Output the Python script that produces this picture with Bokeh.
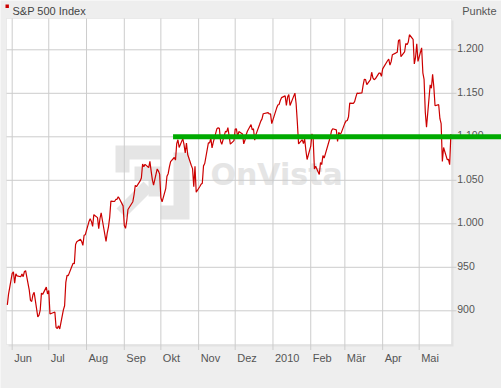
import pandas as pd
from bokeh.plotting import figure
from bokeh.models import (Range1d, Label, BoxAnnotation, PolyAnnotation, ColumnDataSource)
from bokeh.core.properties import value
from bokeh.embed import file_html
from bokeh.resources import INLINE

# ---------------- data ----------------
series_name = "S&P 500 Index"
unit_label = "Punkte"
watermark = "OnVista"

dates = [
    "2009-05-28", "2009-05-29",
    "2009-06-01", "2009-06-02", "2009-06-03", "2009-06-04", "2009-06-05", "2009-06-08", "2009-06-09",
    "2009-06-10", "2009-06-11", "2009-06-12", "2009-06-15", "2009-06-16", "2009-06-17", "2009-06-18",
    "2009-06-19", "2009-06-22", "2009-06-23", "2009-06-24", "2009-06-25", "2009-06-26", "2009-06-29",
    "2009-06-30",
    "2009-07-01", "2009-07-02", "2009-07-06", "2009-07-07", "2009-07-08", "2009-07-09", "2009-07-10",
    "2009-07-13", "2009-07-14", "2009-07-15", "2009-07-16", "2009-07-17", "2009-07-20", "2009-07-21",
    "2009-07-22", "2009-07-23", "2009-07-24", "2009-07-27", "2009-07-28", "2009-07-29", "2009-07-30",
    "2009-07-31",
    "2009-08-03", "2009-08-04", "2009-08-05", "2009-08-06", "2009-08-07", "2009-08-10", "2009-08-11",
    "2009-08-12", "2009-08-13", "2009-08-14", "2009-08-17", "2009-08-18", "2009-08-19", "2009-08-20",
    "2009-08-21", "2009-08-24", "2009-08-25", "2009-08-26", "2009-08-27", "2009-08-28", "2009-08-31",
    "2009-09-01", "2009-09-02", "2009-09-03", "2009-09-04", "2009-09-08", "2009-09-09", "2009-09-10",
    "2009-09-11", "2009-09-14", "2009-09-15", "2009-09-16", "2009-09-17", "2009-09-18", "2009-09-21",
    "2009-09-22", "2009-09-23", "2009-09-24", "2009-09-25", "2009-09-28", "2009-09-29", "2009-09-30",
    "2009-10-01", "2009-10-02", "2009-10-05", "2009-10-06", "2009-10-07", "2009-10-08", "2009-10-09",
    "2009-10-12", "2009-10-13", "2009-10-14", "2009-10-15", "2009-10-16", "2009-10-19", "2009-10-20",
    "2009-10-21", "2009-10-22", "2009-10-23", "2009-10-26", "2009-10-27", "2009-10-28", "2009-10-29",
    "2009-10-30",
    "2009-11-02", "2009-11-03", "2009-11-04", "2009-11-05", "2009-11-06", "2009-11-09", "2009-11-10",
    "2009-11-11", "2009-11-12", "2009-11-13", "2009-11-16", "2009-11-17", "2009-11-18", "2009-11-19",
    "2009-11-20", "2009-11-23", "2009-11-24", "2009-11-25", "2009-11-27", "2009-11-30",
    "2009-12-01", "2009-12-02", "2009-12-03", "2009-12-04", "2009-12-07", "2009-12-08", "2009-12-09",
    "2009-12-10", "2009-12-11", "2009-12-14", "2009-12-15", "2009-12-16", "2009-12-17", "2009-12-18",
    "2009-12-21", "2009-12-22", "2009-12-23", "2009-12-24", "2009-12-28", "2009-12-29", "2009-12-30",
    "2009-12-31",
    "2010-01-04", "2010-01-05", "2010-01-06", "2010-01-07", "2010-01-08", "2010-01-11", "2010-01-12",
    "2010-01-13", "2010-01-14", "2010-01-15", "2010-01-19", "2010-01-20", "2010-01-21", "2010-01-22",
    "2010-01-25", "2010-01-26", "2010-01-27", "2010-01-28", "2010-01-29",
    "2010-02-01", "2010-02-02", "2010-02-03", "2010-02-04", "2010-02-05", "2010-02-08", "2010-02-09",
    "2010-02-10", "2010-02-11", "2010-02-12", "2010-02-16", "2010-02-17", "2010-02-18", "2010-02-19",
    "2010-02-22", "2010-02-23", "2010-02-24", "2010-02-25", "2010-02-26",
    "2010-03-01", "2010-03-02", "2010-03-03", "2010-03-04", "2010-03-05", "2010-03-08", "2010-03-09",
    "2010-03-10", "2010-03-11", "2010-03-12", "2010-03-15", "2010-03-16", "2010-03-17", "2010-03-18",
    "2010-03-19", "2010-03-22", "2010-03-23", "2010-03-24", "2010-03-25", "2010-03-26", "2010-03-29",
    "2010-03-30", "2010-03-31",
    "2010-04-01", "2010-04-05", "2010-04-06", "2010-04-07", "2010-04-08", "2010-04-09", "2010-04-12",
    "2010-04-13", "2010-04-14", "2010-04-15", "2010-04-16", "2010-04-19", "2010-04-20", "2010-04-21",
    "2010-04-22", "2010-04-23", "2010-04-26", "2010-04-27", "2010-04-28", "2010-04-29", "2010-04-30",
    "2010-05-03", "2010-05-04", "2010-05-05", "2010-05-06", "2010-05-07", "2010-05-10", "2010-05-11",
    "2010-05-12", "2010-05-13", "2010-05-14", "2010-05-17", "2010-05-18", "2010-05-19", "2010-05-20",
    "2010-05-21", "2010-05-24", "2010-05-25", "2010-05-26", "2010-05-27",
]

closes = [
    906.8, 919.1,
    942.9, 944.7, 931.8, 942.5, 940.1, 939.1, 942.4,
    939.2, 944.9, 946.2, 923.7, 912.0, 910.7, 918.4,
    921.2, 893.0, 895.1, 900.9, 920.3, 918.9, 927.2,
    919.3,
    923.3, 896.4, 898.7, 881.0, 879.6, 882.7, 879.1,
    901.1, 905.8, 932.7, 940.7, 940.4, 951.1, 954.6,
    954.1, 976.3, 979.3, 982.2, 979.6, 975.2, 986.8,
    987.5,
    1002.6, 1005.7, 1002.7, 997.1, 1010.5, 1007.1, 994.4,
    1005.8, 1012.7, 1004.1, 979.7, 989.7, 996.5, 1007.4,
    1026.1, 1025.6, 1028.0, 1028.1, 1031.0, 1028.9, 1020.6,
    998.0, 994.8, 1003.2, 1016.4, 1025.4, 1033.4, 1044.1,
    1042.7, 1049.3, 1052.6, 1068.8, 1065.5, 1068.3, 1064.7,
    1071.7, 1060.9, 1050.8, 1044.4, 1063.0, 1060.6, 1057.1,
    1029.9, 1025.2, 1040.5, 1054.7, 1057.6, 1065.5, 1071.5,
    1076.2, 1073.2, 1092.0, 1096.6, 1087.7, 1097.9, 1091.1,
    1081.4, 1092.9, 1079.6, 1067.0, 1063.4, 1042.6, 1066.1,
    1036.2,
    1042.9, 1045.4, 1046.5, 1066.6, 1069.3, 1093.1, 1093.0,
    1098.5, 1087.2, 1093.5, 1109.3, 1110.3, 1109.8, 1094.9,
    1091.4, 1106.2, 1105.7, 1110.6, 1091.5, 1095.6,
    1108.9, 1109.2, 1099.9, 1106.0, 1103.3, 1091.9, 1096.0,
    1102.4, 1106.4, 1114.1, 1107.9, 1109.2, 1096.1, 1102.5,
    1114.1, 1118.0, 1120.6, 1126.5, 1127.8, 1126.2, 1126.4,
    1115.1,
    1133.0, 1136.5, 1137.1, 1141.7, 1145.0, 1147.0, 1136.2,
    1145.7, 1148.5, 1136.0, 1150.2, 1138.0, 1116.5, 1091.8,
    1096.8, 1092.2, 1097.5, 1084.5, 1073.9,
    1089.2, 1103.3, 1097.3, 1063.1, 1066.2, 1056.7, 1070.5,
    1068.1, 1078.5, 1075.5, 1094.9, 1099.5, 1106.8, 1109.2,
    1108.0, 1094.6, 1105.2, 1102.9, 1104.5,
    1115.7, 1118.3, 1118.8, 1123.0, 1138.7, 1138.5, 1140.5,
    1145.6, 1150.2, 1150.0, 1150.5, 1159.5, 1166.2, 1165.8,
    1159.9, 1165.8, 1174.2, 1167.7, 1165.7, 1166.6, 1173.2,
    1173.3, 1169.4,
    1178.1, 1187.4, 1189.4, 1182.5, 1186.4, 1194.4, 1196.5,
    1197.3, 1210.7, 1211.7, 1192.1, 1197.5, 1207.2, 1205.9,
    1208.7, 1217.3, 1212.1, 1183.7, 1191.4, 1206.8, 1186.7,
    1202.3, 1173.6, 1165.9, 1128.2, 1110.9, 1159.7, 1155.8,
    1171.7, 1157.4, 1135.7, 1136.9, 1120.8, 1115.1, 1071.6,
    1087.7, 1073.7, 1074.0, 1068.0, 1103.1,
]

month_ticks = ["2009-06-01", "2009-07-01", "2009-08-01", "2009-09-01", "2009-10-01", "2009-11-01",
               "2009-12-01", "2010-01-01", "2010-02-01", "2010-03-01", "2010-04-01", "2010-05-01"]
month_labels = ["Jun", "Jul", "Aug", "Sep", "Okt", "Nov", "Dez", "2010", "Feb", "Mär", "Apr", "Mai"]

price_ticks = [900, 950, 1000, 1050, 1100, 1150, 1200]
price_labels = ["900", "950", "1.000", "1.050", "1.100", "1.150", "1.200"]

resistance_level = 1100
resistance_start = "2009-10-11"

# ---------------- layout (pixel geometry of the page) ----------------
W, H = 501, 388
PLOT_L, PLOT_R, PLOT_T, PLOT_B = 6, 451, 18, 344     # plot area in page px
TICK = 5
DAY_MS = 86400000.0


def ms(d):
    return float(pd.Timestamp(d).value // 10**6)


# scale calibration: first/last month grid line and first/last price grid line in page px
_x_ref0, _x_ref1 = ms(month_ticks[0]), ms(month_ticks[-1])
_px0, _px1 = 11.7, 418.7
_y_ref0, _y_ref1 = price_ticks[0], price_ticks[-1]
_py0, _py1 = 310.3, 49.3


def x_at(px):
    return _x_ref0 + (px - _px0) * (_x_ref1 - _x_ref0) / (_px1 - _px0)


def y_at(py):
    return _y_ref0 + (py - _py0) * (_y_ref1 - _y_ref0) / (_py1 - _py0)


x = pd.to_datetime(dates)
month_ms = [ms(d) for d in month_ticks]

FONT = "Liberation Sans"
TXT = "#555555"
GRID = "#CCCCCC"

p = figure(width=W, height=H, title=None,
           x_range=Range1d(x_at(0), x_at(W)), y_range=Range1d(y_at(H), y_at(0)),
           x_axis_location=None, y_axis_location=None,
           output_backend="svg", toolbar_location=None, min_border=0,
           background_fill_color="#EEEEEE", border_fill_color="#EEEEEE",
           outline_line_color=None)
p.grid.visible = False


def sy(py):  # page y -> screen units (from bottom of frame)
    return H - py


# plot area: shadow + white panel
p.add_layout(BoxAnnotation(left=PLOT_L + 2, right=PLOT_R + 2, top=sy(PLOT_T + 2), bottom=sy(PLOT_B + 2),
                           left_units="screen", right_units="screen", top_units="screen", bottom_units="screen",
                           fill_color="#E2E2E2", fill_alpha=1, line_color=None, level="image"))
p.add_layout(BoxAnnotation(left=PLOT_L, right=PLOT_R, top=sy(PLOT_T), bottom=sy(PLOT_B),
                           left_units="screen", right_units="screen", top_units="screen", bottom_units="screen",
                           fill_color="white", fill_alpha=1, line_color=GRID, line_width=1, level="image"))

# watermark
WM = "#E5E5E5"
logo_parts = [
    [(115, 145), (160, 145), (160, 159), (129, 159), (129, 172), (115, 172)],
    [(173, 152), (189, 152), (189, 219), (160, 219), (160, 205), (173, 205)],
    [(134, 166), (161, 166), (161, 196), (148, 196), (148, 180), (134, 180)],
    [(116, 208), (143, 181), (152, 190), (125, 217)],
]
for part in logo_parts:
    p.add_layout(PolyAnnotation(xs=[a for a, b in part], ys=[sy(b) for a, b in part],
                                xs_units="screen", ys_units="screen",
                                fill_color=WM, fill_alpha=1, line_color=None, level="image"))
p.add_layout(Label(x=210, y=sy(174), x_units="screen", y_units="screen", text=watermark,
                   text_font="DejaVu Sans", text_font_style="bold", text_font_size="30px",
                   text_color=WM, text_baseline="alphabetic", level="image"))

# grid lines with tick extensions
p.segment(x0=month_ms, x1=month_ms, y0=y_at(PLOT_T), y1=y_at(PLOT_B + TICK + 0.5),
          line_color=GRID, line_width=1)
p.segment(x0=x_at(PLOT_L), x1=x_at(PLOT_R + TICK), y0=price_ticks, y1=price_ticks,
          line_color=GRID, line_width=1)

# tick labels
p.text(x=month_ms, y=y_at(357), text=month_labels, x_offset=2,
       text_align="left", text_baseline="alphabetic",
       text_font=value(FONT), text_font_size="11px", text_color=TXT)
p.text(x=x_at(PLOT_R + 5.7), y=price_ticks, text=price_labels, y_offset=-1.5,
       text_align="left", text_baseline="alphabetic",
       text_font=value(FONT), text_font_size="10.5px", text_color=TXT)

# price line
p.line(x=x, y=closes, line_color="#CC0000", line_width=1.2)

# resistance line (runs to the right edge of the page)
p.add_layout(BoxAnnotation(left=ms(resistance_start), right=W, right_units="screen",
                           bottom=resistance_level - 2.9, top=resistance_level + 2.9,
                           fill_color="#00AA00", fill_alpha=1, line_color=None))

# title, marker, unit
p.add_layout(BoxAnnotation(left=5, right=8.4, top=sy(4), bottom=sy(7.4),
                           left_units="screen", right_units="screen",
                           bottom_units="screen", top_units="screen",
                           fill_color="#CC0000", fill_alpha=1, line_color=None))
p.add_layout(Label(x=12, y=sy(10), x_units="screen", y_units="screen", text=series_name,
                   text_font=FONT, text_font_size="11px", text_color="#444444",
                   text_baseline="alphabetic"))
p.add_layout(Label(x=496, y=sy(10), x_units="screen", y_units="screen", text=unit_label,
                   text_font=FONT, text_font_size="11px", text_color=TXT,
                   text_align="right", text_baseline="alphabetic"))

open("out.html", "w").write(file_html(p, INLINE))
